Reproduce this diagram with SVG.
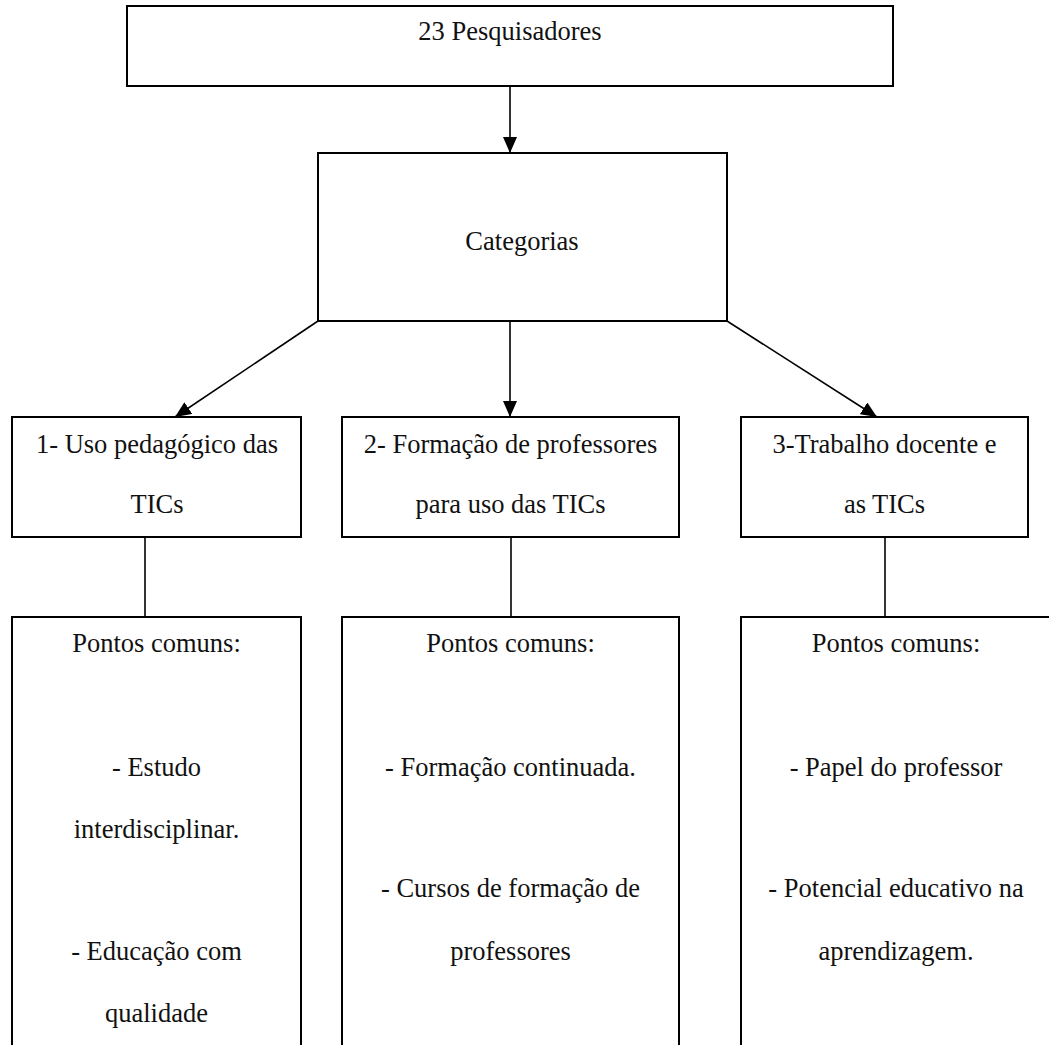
<svg xmlns="http://www.w3.org/2000/svg" width="1049" height="1045" viewBox="0 0 1049 1045">
  <style>
    .box { fill: #ffffff; stroke: #000000; stroke-width: 2; }
    .t { font-family: "Liberation Serif", "Times New Roman", serif; font-size: 26.5px; fill: #111111; text-anchor: middle; }
    .link { stroke: #000000; stroke-width: 1.6; fill: none; }
  </style>
  <defs>
    <marker id="arrow" markerUnits="userSpaceOnUse" markerWidth="16" markerHeight="14" refX="16" refY="7" orient="auto">
      <path d="M0,0 L16,7 L0,14 Z" fill="#000000"/>
    </marker>
  </defs>
  <rect width="1049" height="1045" fill="#ffffff"/>

  <g id="connectors">
    <line class="link" x1="510" y1="86" x2="510" y2="153" marker-end="url(#arrow)"/>
    <line class="link" x1="318" y1="321" x2="175" y2="417" marker-end="url(#arrow)"/>
    <line class="link" x1="510" y1="321" x2="510" y2="417" marker-end="url(#arrow)"/>
    <line class="link" x1="727" y1="321" x2="877" y2="417" marker-end="url(#arrow)"/>
    <line class="link" x1="145" y1="537" x2="145" y2="617"/>
    <line class="link" x1="511" y1="526" x2="511" y2="617"/>
    <line class="link" x1="885" y1="526" x2="885" y2="617"/>
  </g>

  <g id="node-pesquisadores">
    <rect class="box" x="127" y="6" width="766" height="80"/>
    <text class="t" x="510" y="40">23 Pesquisadores</text>
  </g>

  <g id="node-categorias">
    <rect class="box" x="318" y="153" width="409" height="168"/>
    <text class="t" x="522" y="250">Categorias</text>
  </g>

  <g id="node-cat1">
    <rect class="box" x="12" y="417" width="289" height="120"/>
    <text class="t" x="157" y="453">1- Uso pedagógico das</text>
    <text class="t" x="157" y="513">TICs</text>
  </g>

  <g id="node-cat2">
    <rect class="box" x="342" y="417" width="337" height="120"/>
    <text class="t" x="510.5" y="453">2- Formação de professores</text>
    <text class="t" x="510.5" y="513">para uso das TICs</text>
  </g>

  <g id="node-cat3">
    <rect class="box" x="741" y="417" width="287" height="120"/>
    <text class="t" x="884.5" y="453">3-Trabalho docente e</text>
    <text class="t" x="884.5" y="513">as TICs</text>
  </g>

  <g id="node-pontos1">
    <rect class="box" x="12" y="617" width="289" height="440"/>
    <text class="t" x="156.5" y="652">Pontos comuns:</text>
    <text class="t" x="156.5" y="776">- Estudo</text>
    <text class="t" x="156.5" y="838">interdisciplinar.</text>
    <text class="t" x="156.5" y="960">- Educação com</text>
    <text class="t" x="156.5" y="1022">qualidade</text>
  </g>

  <g id="node-pontos2">
    <rect class="box" x="342" y="617" width="337" height="440"/>
    <text class="t" x="510.5" y="652">Pontos comuns:</text>
    <text class="t" x="510.5" y="776">- Formação continuada.</text>
    <text class="t" x="510.5" y="897">- Cursos de formação de</text>
    <text class="t" x="510.5" y="960">professores</text>
  </g>

  <g id="node-pontos3">
    <rect class="box" x="741" y="617" width="320" height="440"/>
    <text class="t" x="896" y="652">Pontos comuns:</text>
    <text class="t" x="896" y="776">- Papel do professor</text>
    <text class="t" x="896" y="897">- Potencial educativo na</text>
    <text class="t" x="896" y="960">aprendizagem.</text>
  </g>
</svg>
